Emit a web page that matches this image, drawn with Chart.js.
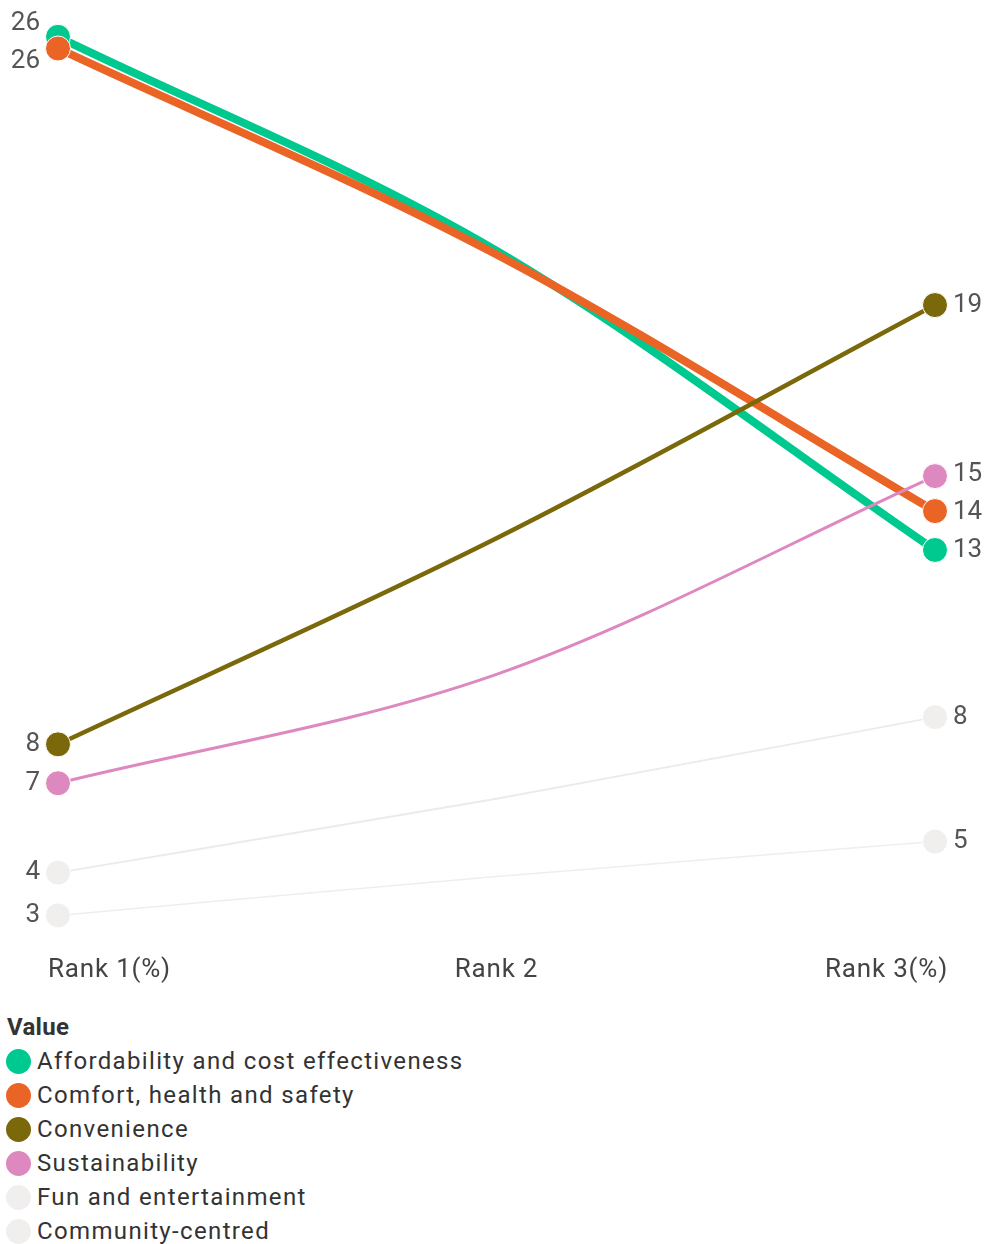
<!DOCTYPE html>
<html>
<head>
<meta charset="utf-8">
<script src="https://cdn.jsdelivr.net/npm/chart.js@4"></script>
<style>
  body { margin: 0; background: #fff; font-family: Roboto, "Noto Sans", sans-serif; }
  #wrap { position: relative; width: 990px; height: 1244px; overflow: hidden; }
  #chartBox { position: absolute; left: 0; top: 0; width: 990px; height: 1000px; }
  #legend { position: absolute; left: 6px; top: 1010px; color: #333; font-size: 24px; line-height: 34px; }
  #legend .title { font-weight: bold; padding-left: 1px; letter-spacing: 0.3px; }
  #legend .item { display: flex; align-items: center; white-space: nowrap; letter-spacing: 1.35px; }
  #legend .dot { width: 25px; height: 25px; border-radius: 50%; margin-right: 6px; flex: none; }
</style>
</head>
<body>
<div id="wrap">
  <div id="chartBox"><canvas id="slopeChart"></canvas></div>
  <div id="legend"></div>
</div>
<script>
// categories along the x axis
const categories = ['Rank 1(%)', 'Rank 2', 'Rank 3(%)'];

const seriesNames = [
  'Affordability and cost effectiveness',
  'Comfort, health and safety',
  'Convenience',
  'Sustainability',
  'Fun and entertainment',
  'Community-centred'
];

// share of respondents per rank (%)
const affordability = [25.9, 20.4, 12.7];
const comfort = [25.6, 20.3, 13.7];
const convenience = [7.7, 13.0, 19.0];
const sustainability = [6.7, 9.5, 14.6];
const fun = [4.4, 6.3, 8.4];
const community = [3.3, 4.3, 5.2];

const seriesValues = [affordability, comfort, convenience, sustainability, fun, community];

// styling
const lineColors = ['#00C98F', '#EA6426', '#7A680A', '#DE88C0', '#EFEAEA', '#F1EDED'];
const dotColors = ['#00C98F', '#EA6426', '#7A680A', '#DE88C0', '#F1EEEE', '#F1EEEE'];
const lineWidths = [8, 8, 4.5, 3, 2, 1.5];
const drawOrder = [3, 2, 1, 0, 4, 5];

// push overlapping labels apart, keeping each group centred on its points
function spreadLabels(items, gap) {
  let groups = items.map(it => ({ members: [it], center: it.y }));
  let merged = true;
  while (merged) {
    merged = false;
    for (let i = 0; i < groups.length - 1; i++) {
      const a = groups[i], b = groups[i + 1];
      const aBottom = a.center + (a.members.length - 1) * gap / 2;
      const bTop = b.center - (b.members.length - 1) * gap / 2;
      if (bTop - aBottom < gap) {
        const members = a.members.concat(b.members);
        const center = members.reduce((s, m) => s + m.y, 0) / members.length;
        groups.splice(i, 2, { members, center });
        merged = true;
        break;
      }
    }
  }
  groups.forEach(g => g.members.forEach((m, k) => {
    m.ly = g.center + (k - (g.members.length - 1) / 2) * gap;
  }));
}

const endLabels = {
  id: 'endLabels',
  afterDatasetsDraw(chart) {
    const ctx = chart.ctx;
    const last = categories.length - 1;
    [0, last].forEach(idx => {
      const items = chart.data.datasets.map((ds, i) => {
        const pt = chart.getDatasetMeta(i).data[idx];
        return { text: String(Math.round(ds.data[idx])), x: pt.x, y: pt.y };
      }).sort((a, b) => a.y - b.y);
      spreadLabels(items, 38);
      ctx.save();
      ctx.font = '26px Roboto';
      ctx.fillStyle = '#555';
      ctx.textBaseline = 'middle';
      ctx.textAlign = idx === 0 ? 'right' : 'left';
      items.forEach(it => {
        ctx.fillText(it.text, idx === 0 ? it.x - 18 : it.x + 18, it.ly);
      });
      ctx.restore();
    });
  }
};

const rankLabels = {
  id: 'rankLabels',
  afterDraw(chart) {
    const xScale = chart.scales.x;
    const ctx = chart.ctx;
    const y = chart.chartArea.bottom + 24;
    ctx.save();
    ctx.font = '26px Roboto';
    ctx.letterSpacing = '0.8px';
    ctx.fillStyle = '#444';
    ctx.textBaseline = 'middle';
    categories.forEach((c, i) => {
      let px = xScale.getPixelForValue(i);
      if (i === 0) { ctx.textAlign = 'left'; px -= 10; }
      else if (i === categories.length - 1) { ctx.textAlign = 'right'; px += 13; }
      else ctx.textAlign = 'center';
      ctx.fillText(c, px, y);
    });
    ctx.restore();
  }
};

const datasets = seriesNames.map((name, i) => ({
  label: name,
  data: seriesValues[i],
  borderColor: lineColors[i],
  borderWidth: lineWidths[i],
  backgroundColor: dotColors[i],
  pointBackgroundColor: dotColors[i],
  pointBorderColor: '#fff',
  pointBorderWidth: 1,
  pointRadius: [12.5, 0, 12.5],
  pointHoverRadius: [12.5, 0, 12.5],
  cubicInterpolationMode: 'monotone',
  order: drawOrder[i],
  clip: false
}));

const ctx = document.getElementById('slopeChart').getContext('2d');
const chart = new Chart(ctx, {
  type: 'line',
  data: { labels: categories, datasets: datasets },
  options: {
    responsive: true,
    maintainAspectRatio: false,
    animation: false,
    layout: { padding: { top: 10.5, bottom: 53.5, left: 58, right: 55 } },
    scales: {
      x: { display: false, offset: false },
      y: { display: false, min: 2.5, max: 26.5 }
    },
    plugins: {
      legend: { display: false },
      tooltip: { enabled: false }
    }
  },
  plugins: [endLabels, rankLabels]
});

// legend list built from the datasets
const legend = document.getElementById('legend');
legend.innerHTML = '<div class="title">Value</div>' + seriesNames.map((name, i) =>
  '<div class="item"><span class="dot" style="background:' + dotColors[i] + '"></span>' + name + '</div>'
).join('');
</script>
</body>
</html>
